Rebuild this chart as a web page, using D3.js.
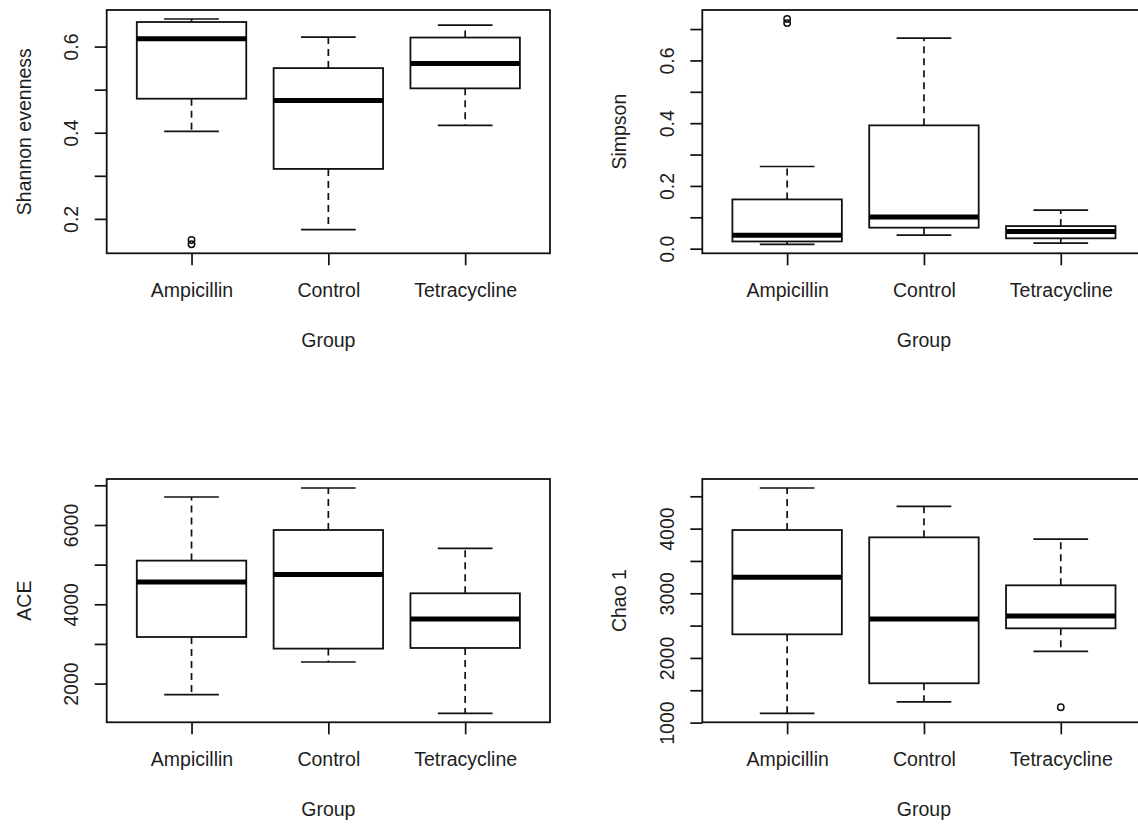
<!DOCTYPE html>
<html>
<head>
<meta charset="utf-8">
<script src="https://cdn.jsdelivr.net/npm/d3@7"></script>
<style>
  html, body { margin: 0; padding: 0; background: #fff; }
  svg { display: block; font-family: "Liberation Sans", Arial, sans-serif; }
</style>
</head>
<body>
<svg id="chart" width="1138" height="825"></svg>
<script>
// Treatment groups on the x axis
const groups = ["Ampicillin", "Control", "Tetracycline"];

// Five-number summaries per group: [lower whisker, Q1, median, Q3, upper whisker]
const shannonStats = [
  [0.403, 0.479, 0.618, 0.657, 0.664],
  [0.175, 0.316, 0.475, 0.550, 0.622],
  [0.417, 0.503, 0.561, 0.621, 0.650]
];
const shannonOutliers = [[0.151, 0.141], [], []];
const shannonTicks = [0.2, 0.3, 0.4, 0.5, 0.6];
const shannonTickLabels = [0.2, 0.4, 0.6];

const simpsonStats = [
  [0.014, 0.023, 0.043, 0.157, 0.262],
  [0.043, 0.067, 0.101, 0.393, 0.671],
  [0.018, 0.033, 0.055, 0.072, 0.123]
];
const simpsonOutliers = [[0.732, 0.719], [], []];
const simpsonTicks = [0.0, 0.1, 0.2, 0.3, 0.4, 0.5, 0.6, 0.7];
const simpsonTickLabels = [0.0, 0.2, 0.4, 0.6];

const aceStats = [
  [1723, 3175, 4562, 5101, 6705],
  [2545, 2882, 4748, 5873, 6932],
  [1251, 2898, 3629, 4277, 5411]
];
const aceOutliers = [[], [], []];
const aceTicks = [2000, 3000, 4000, 5000, 6000, 7000];
const aceTickLabels = [2000, 4000, 6000];

const chaoStats = [
  [1144, 2365, 3247, 3978, 4628],
  [1319, 1608, 2602, 3865, 4345],
  [2103, 2458, 2648, 3123, 3839]
];
const chaoOutliers = [[], [], [1237]];
const chaoTicks = [1000, 1500, 2000, 2500, 3000, 3500, 4000, 4500];
const chaoTickLabels = [1000, 2000, 3000, 4000];

// Panel layout: 2 x 2 grid, plot region of each panel
const panels = [
  { ylab: "Shannon evenness", stats: shannonStats, out: shannonOutliers, ticks: shannonTicks, labels: shannonTickLabels, fmt: d3.format(".1f"), left: 106.7, top: 10 },
  { ylab: "Simpson", stats: simpsonStats, out: simpsonOutliers, ticks: simpsonTicks, labels: simpsonTickLabels, fmt: d3.format(".1f"), left: 702.3, top: 10 },
  { ylab: "ACE", stats: aceStats, out: aceOutliers, ticks: aceTicks, labels: aceTickLabels, fmt: d3.format("d"), left: 106.7, top: 479 },
  { ylab: "Chao 1", stats: chaoStats, out: chaoOutliers, ticks: chaoTicks, labels: chaoTickLabels, fmt: d3.format("d"), left: 702.3, top: 479 }
];

const plotW = 443.3, plotH = 243.3;
const ink = "#111";
const textInk = "#1e1e1e";
const fontSize = 19.5;

const svg = d3.select("#chart");

panels.forEach(p => {
  const g = svg.append("g").attr("transform", `translate(${p.left},${p.top})`);

  // y range: data extent padded by 4% on each side
  const all = p.stats.flat().concat(p.out.flat());
  const [lo, hi] = d3.extent(all);
  const pad = (hi - lo) * 0.04;
  const y = d3.scaleLinear().domain([lo - pad, hi + pad]).range([plotH, 0]);

  // x: group positions 1..n over [0.5, n + 0.5] padded by 4%
  const n = groups.length;
  const xr = n * 0.04;
  const x = d3.scaleLinear().domain([0.5 - xr, n + 0.5 + xr]).range([0, plotW]);
  const unit = x(2) - x(1);
  const halfBox = unit * 0.4;
  const halfStaple = halfBox * 0.5;

  // boxes
  p.stats.forEach((s, i) => {
    const cx = x(i + 1);
    const bg = g.append("g");
    // whiskers
    bg.append("line")
      .attr("x1", cx).attr("x2", cx).attr("y1", y(s[1])).attr("y2", y(s[0]))
      .attr("stroke", ink).attr("stroke-width", 1.7).attr("stroke-dasharray", "7,5");
    bg.append("line")
      .attr("x1", cx).attr("x2", cx).attr("y1", y(s[3])).attr("y2", y(s[4]))
      .attr("stroke", ink).attr("stroke-width", 1.7).attr("stroke-dasharray", "7,5");
    // staples
    [s[0], s[4]].forEach(v => {
      bg.append("line")
        .attr("x1", cx - halfStaple).attr("x2", cx + halfStaple)
        .attr("y1", y(v)).attr("y2", y(v))
        .attr("stroke", ink).attr("stroke-width", 1.7);
    });
    // box
    bg.append("rect")
      .attr("x", cx - halfBox).attr("width", halfBox * 2)
      .attr("y", y(s[3])).attr("height", y(s[1]) - y(s[3]))
      .attr("fill", "#fff").attr("stroke", ink).attr("stroke-width", 1.8);
    // median
    bg.append("line")
      .attr("x1", cx - halfBox).attr("x2", cx + halfBox)
      .attr("y1", y(s[2])).attr("y2", y(s[2]))
      .attr("stroke", "#000").attr("stroke-width", 5);
    // outliers
    p.out[i].forEach(v => {
      bg.append("circle")
        .attr("cx", cx).attr("cy", y(v)).attr("r", 3.2)
        .attr("fill", "none").attr("stroke", ink).attr("stroke-width", 1.5);
    });
  });

  // frame
  g.append("rect")
    .attr("x", 0).attr("y", 0).attr("width", plotW).attr("height", plotH)
    .attr("fill", "none").attr("stroke", ink).attr("stroke-width", 1.8);

  // y axis
  const ya = g.append("g")
    .call(d3.axisLeft(y).tickValues(p.ticks).tickSize(12)
      .tickFormat(d => p.labels.includes(d) ? p.fmt(d) : ""));
  ya.select(".domain").remove();
  ya.selectAll(".tick line").attr("stroke", ink).attr("stroke-width", 1.7);
  ya.selectAll(".tick text")
    .attr("x", null).attr("dy", null)
    .attr("transform", "translate(-28.5,0) rotate(-90)")
    .attr("text-anchor", "middle")
    .attr("fill", textInk)
    .style("font-size", fontSize + "px")
    .style("font-family", "'Liberation Sans', Arial, sans-serif");

  // x axis
  const xa = g.append("g").attr("transform", `translate(0,${plotH})`)
    .call(d3.axisBottom(x).tickValues(d3.range(1, n + 1)).tickSize(12)
      .tickFormat(i => groups[i - 1]));
  xa.select(".domain").remove();
  xa.selectAll(".tick line").attr("stroke", ink).attr("stroke-width", 1.7);
  xa.selectAll(".tick text")
    .attr("y", 43.5).attr("dy", null)
    .attr("fill", textInk)
    .style("font-size", fontSize + "px")
    .style("font-family", "'Liberation Sans', Arial, sans-serif");

  // axis titles
  g.append("text")
    .attr("x", plotW * 0 + (x(2)))
    .attr("y", plotH + 94)
    .attr("text-anchor", "middle")
    .attr("fill", textInk)
    .style("font-size", fontSize + "px")
    .text("Group");
  g.append("text")
    .attr("transform", `translate(-76,${plotH / 2}) rotate(-90)`)
    .attr("text-anchor", "middle")
    .attr("fill", textInk)
    .style("font-size", fontSize + "px")
    .text(p.ylab);
});
</script>
</body>
</html>
